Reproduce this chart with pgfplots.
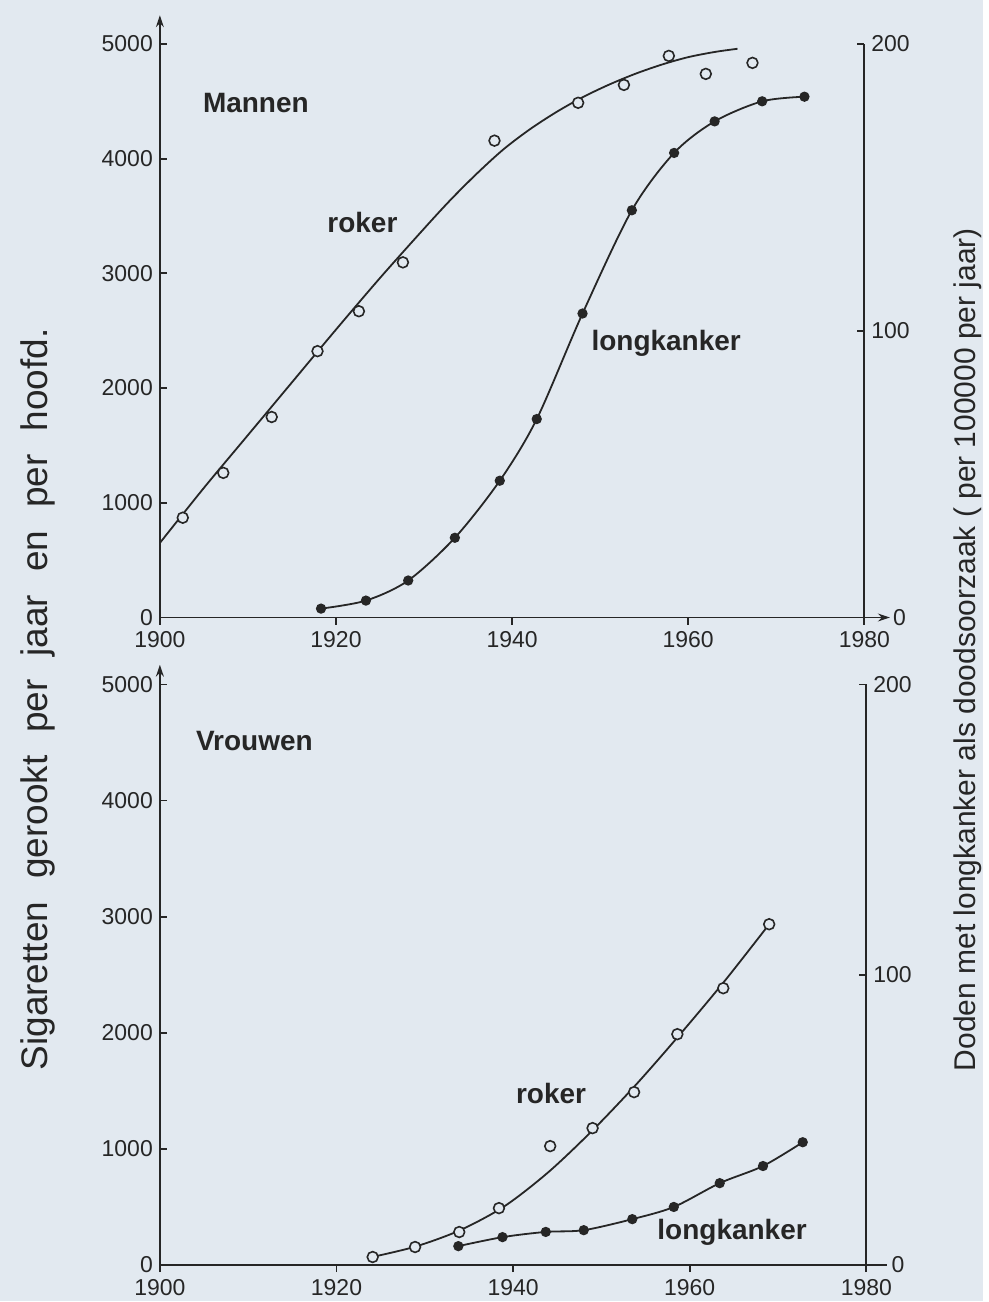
\documentclass[border=0pt]{standalone}
\usepackage{pgfplots}
\pgfplotsset{compat=1.18}
\usepackage{fontspec}
\setmainfont{Liberation Sans}
\usetikzlibrary{arrows.meta}

\definecolor{paper}{RGB}{226,233,240}
\definecolor{ink}{RGB}{38,38,38}

\pgfplotsset{
  panel/.style={
    scale only axis, xmin=1900, xmax=1980, ymin=0, ymax=5000, clip=false,
    axis x line=bottom, axis y line=left, axis line style={ink, line width=0.9pt, -},
    xtick={1900,1920,1940,1960,1980}, ytick={0,1000,...,5000},
    xtick align=outside, ytick align=inside, major tick length=3.5pt,
    tick style={ink, line width=0.9pt},
    ticklabel style={font=\fontsize{11.5}{12}\selectfont, text=ink},
    /pgf/number format/assume math mode=true,
    /pgf/number format/set thousands separator={},
  },
  rechts/.style={
    scale only axis, xmin=1900, xmax=1980, ymin=0, ymax=200, clip=false,
    axis x line=none, axis y line*=right, axis line style={ink, line width=0.9pt, -},
    ytick={100,200}, ytick align=inside, major tick length=3.5pt,
    tick style={ink, line width=0.9pt},
    ticklabel style={font=\fontsize{11.5}{12}\selectfont, text=ink},
    /pgf/number format/assume math mode=true,
  },
  lijn/.style={ink, line width=0.9pt, smooth, no markers},
  open/.style={only marks, mark=*, mark size=2.7pt, mark options={draw=ink, fill=paper, line width=0.8pt}},
  dicht/.style={ink, line width=0.9pt, smooth, mark=*, mark size=2.1pt, mark options={draw=ink, fill=ink}},
}
\tikzset{lbl/.style={font=\bfseries\fontsize{14}{16}\selectfont, text=ink}}
\newcommand{\ws}{\hspace{0.62em}}

\begin{document}
\begin{tikzpicture}
\fill[paper] (0,0) rectangle (492pt,651pt);

% ---------- Mannen ----------
\begin{axis}[panel, at={(80pt,342pt)}, anchor=south west, width=352.5pt, height=287pt]
  \addplot[lijn] coordinates {
    (1900,650) (1905,1130) (1910,1590) (1915,2050) (1920,2510) (1925,2960)
    (1930,3390) (1933,3640) (1936,3870) (1939,4080) (1942,4255) (1945,4405)
    (1948,4535) (1951,4645) (1954,4740) (1957,4820) (1960,4885) (1963,4930)
    (1965.6,4958)};
  \addplot[open] coordinates {
    (1902.6,870) (1907.2,1261) (1912.7,1748) (1917.9,2322) (1922.6,2670)
    (1927.6,3096) (1938.0,4157) (1947.5,4487) (1952.7,4643) (1957.8,4896)
    (1962.0,4739) (1967.3,4835)};
  \draw[ink, line width=0.9pt, -{Stealth[length=6pt,width=4pt]}] (axis cs:1900,5000) -- (axis cs:1900,5250);
  \draw[ink, line width=0.9pt, -{Stealth[length=6pt,width=4pt]}] (axis cs:1980,0) -- (axis cs:1982.9,0);
  \node[anchor=west, inner sep=1pt, font=\fontsize{11.5}{12}\selectfont, text=ink] at (axis cs:1983,0) {0};
  \node[lbl] at (axis cs:1910.9,4487) {Mannen};
  \node[lbl] at (axis cs:1923.0,3443) {roker};
  \node[lbl] at (axis cs:1957.5,2391) {longkanker};
\end{axis}
\begin{axis}[rechts, at={(80pt,342pt)}, anchor=south west, width=352.5pt, height=287pt]
  \addplot[dicht] coordinates {
    (1918.3,3.1) (1923.4,5.9) (1928.2,12.9) (1933.5,27.8) (1938.6,47.7)
    (1942.8,69.2) (1948.0,106) (1953.6,142) (1958.4,162) (1963.0,173)
    (1968.4,180) (1973.2,181.6)};
\end{axis}

% ---------- Vrouwen ----------
\begin{axis}[panel, at={(80pt,18pt)}, anchor=south west, width=353.5pt, height=290.5pt]
  \addplot[lijn] coordinates {
    (1924.1,70) (1929,160) (1934,300) (1939,505) (1944,800) (1949,1160)
    (1954,1560) (1959,1995) (1964,2450) (1969,2935)};
  \addplot[open] coordinates {
    (1924.1,69) (1928.9,155) (1933.9,284) (1938.4,490) (1944.2,1024)
    (1949.0,1179) (1953.7,1489) (1958.6,1988) (1963.8,2384) (1969.0,2935)};
  \draw[ink, line width=0.9pt, -{Stealth[length=6pt,width=4pt]}] (axis cs:1900,5000) -- (axis cs:1900,5170);
  \draw[ink, line width=0.9pt] (axis cs:1980,0) -- (axis cs:1982.3,0);
  \node[anchor=west, inner sep=1pt, font=\fontsize{11.5}{12}\selectfont, text=ink] at (axis cs:1982.6,0) {0};
  \node[lbl] at (axis cs:1910.7,4509) {Vrouwen};
  \node[lbl] at (axis cs:1944.3,1480) {roker};
  \node[lbl] at (axis cs:1964.8,284) {longkanker};
\end{axis}
\begin{axis}[rechts, at={(80pt,18pt)}, anchor=south west, width=353.5pt, height=290.5pt]
  \addplot[dicht] coordinates {
    (1933.8,6.5) (1938.8,9.6) (1943.7,11.4) (1948.0,12.0) (1953.5,15.8)
    (1958.2,20.0) (1963.4,28.2) (1968.3,34.1) (1972.8,42.3)};
\end{axis}

% ---------- asteksten ----------
\node[rotate=90, anchor=base, font=\fontsize{18.5}{22}\selectfont, text=ink]
  at (24pt,301pt) {Sigaretten\ws gerookt\ws per\ws jaar\ws en\ws per\ws hoofd.};
\node[rotate=90, anchor=base, font=\fontsize{15}{18}\selectfont, text=ink]
  at (488pt,326pt) {Doden met longkanker als doodsoorzaak ( per 100000 per jaar)};
\end{tikzpicture}
\end{document}
